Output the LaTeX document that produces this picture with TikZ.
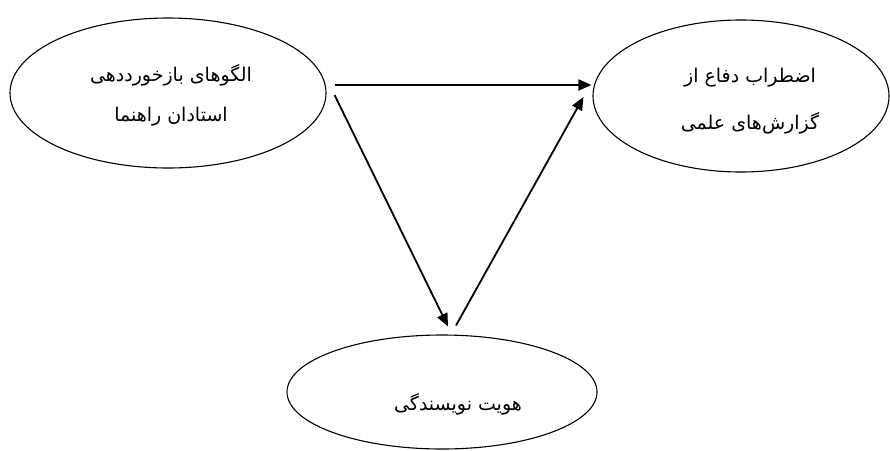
\documentclass[tikz,border=0pt]{standalone}
\usepackage{fontspec}
\newfontfamily\arabicfont[Script=Arabic]{DejaVu Sans}
\TeXXeTstate=1
\usetikzlibrary{shapes.geometric,arrows.meta}
\tikzset{
  oval/.style={ellipse, draw=black, line width=1.1pt, inner sep=0pt},
  lbl/.style={font=\arabicfont\fontsize{19}{24}\selectfont, align=center, inner sep=0pt},
  arr/.style={line width=1.8pt, -{Triangle[length=13pt,width=11pt]}}
}
\begin{document}
\begin{tikzpicture}[x=1pt,y=-1pt]
\useasboundingbox (0,0) rectangle (890,450);
\node[oval, minimum width=316pt, minimum height=150pt] (a) at (168,93) {};
\node[oval, minimum width=296pt, minimum height=152pt] (b) at (741,96) {};
\node[oval, minimum width=310pt, minimum height=114pt] (c) at (442,392) {};
\node[lbl] (ta) at (171,95) {\beginR الگوهای بازخورددهی\endR\\[16pt]\beginR استادان راهنما\endR};
\node[lbl] (tb) at (750,101) {\beginR اضطراب دفاع از\endR\\[23pt]\beginR گزارش‌های علمی\endR};
\node[lbl] (tc) at (458,404) {\beginR هویت نویسندگی\endR};
\draw[arr] ([shift={(8,-8)}]a.east) -- ([shift={(-1,-11)}]b.west);
\draw[arr] ([shift={(8,2)}]a.east) -- ([shift={(6,-8)}]c.north);
\draw[arr] ([shift={(14,-9)}]c.north) -- ([shift={(-9,1)}]b.west);
\end{tikzpicture}
\end{document}
